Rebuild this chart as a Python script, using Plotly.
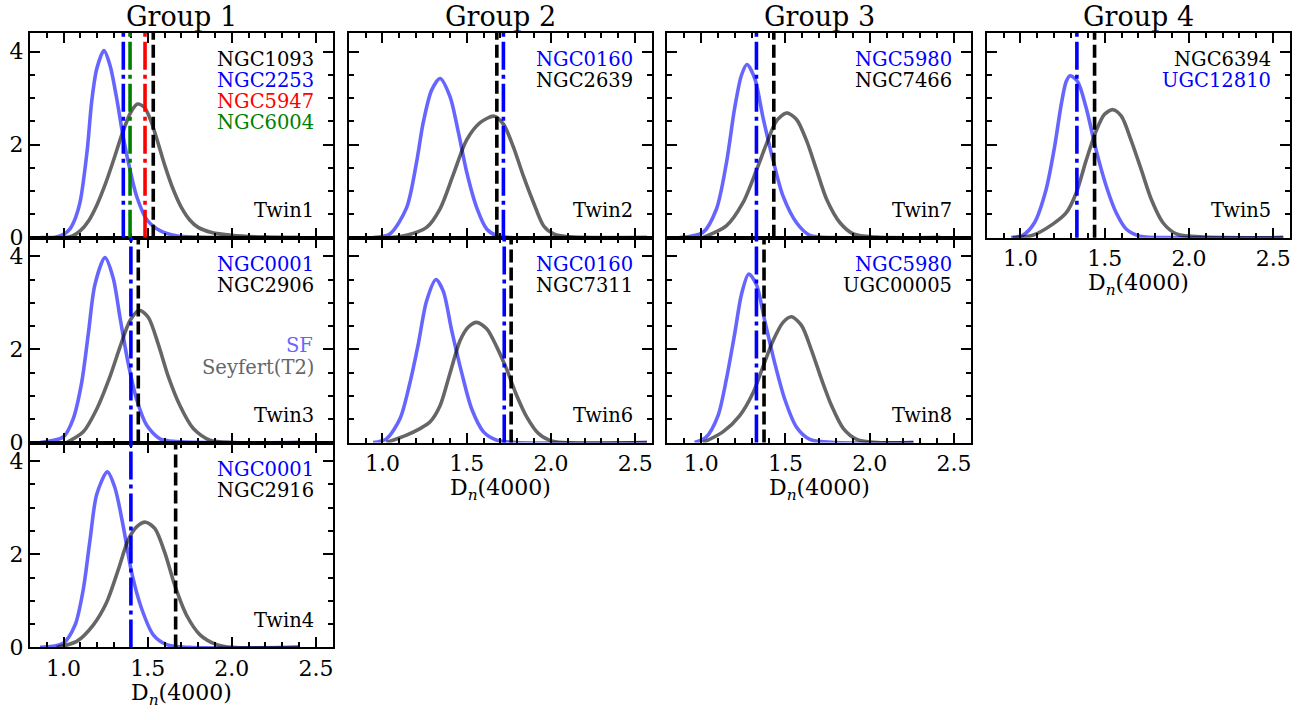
import plotly.graph_objects as go

# ---------------------------------------------------------------------------
# D_n(4000) density curves for the star-forming (SF) and Seyfert (T2) samples
# of each twin, plus the D_n(4000) of the individual galaxies in the twin.
# ---------------------------------------------------------------------------
GROUP_TITLES = ["Group 1", "Group 2", "Group 3", "Group 4"]
X_TICKS = [1.0, 1.5, 2.0, 2.5]
Y_TICKS = [0, 2, 4]
X_LABEL = "D<sub><i>n</i></sub>(4000)"

# Twin1
TWIN1_SF_X = [0.86, 0.95, 1.0, 1.038, 1.07, 1.097, 1.14, 1.167, 1.197, 1.24, 1.276, 1.315, 1.355, 1.395, 1.434, 1.494, 1.573, 1.67, 1.8, 2.4]
TWIN1_SF_Y = [0.0, 0.01, 0.07, 0.19, 0.42, 0.75, 1.87, 2.93, 3.63, 4.02, 3.70, 3.0, 2.15, 1.45, 0.89, 0.39, 0.15, 0.04, 0.01, 0.0]
TWIN1_SEY_X = [1.0, 1.05, 1.10, 1.15, 1.20, 1.25, 1.30, 1.35, 1.40, 1.44, 1.48, 1.52, 1.56, 1.60, 1.65, 1.70, 1.75, 1.80, 1.88, 2.0, 2.2, 2.4]
TWIN1_SEY_Y = [0.0, 0.03, 0.15, 0.37, 0.72, 1.17, 1.70, 2.25, 2.70, 2.87, 2.80, 2.50, 2.05, 1.57, 1.05, 0.65, 0.38, 0.22, 0.11, 0.05, 0.01, 0.0]
TWIN1_NAMES = ["NGC1093", "NGC2253", "NGC5947", "NGC6004"]
TWIN1_DN = [1.533, 1.355, 1.484, 1.395]

# Twin2
TWIN2_SF_X = [0.945, 1.044, 1.143, 1.203, 1.242, 1.292, 1.342, 1.401, 1.451, 1.50, 1.56, 1.62, 1.679, 1.76, 2.0, 2.57]
TWIN2_SF_Y = [0.0, 0.08, 0.64, 1.63, 2.47, 3.17, 3.42, 3.03, 2.26, 1.41, 0.64, 0.18, 0.04, 0.0, 0.0, 0.0]
TWIN2_SEY_X = [1.044, 1.143, 1.262, 1.342, 1.421, 1.50, 1.58, 1.663, 1.718, 1.778, 1.838, 1.897, 1.957, 2.016, 2.13, 2.57]
TWIN2_SEY_Y = [0.0, 0.05, 0.22, 0.62, 1.36, 2.10, 2.47, 2.61, 2.44, 1.94, 1.31, 0.75, 0.25, 0.08, 0.01, 0.0]
TWIN2_NAMES = ["NGC0160", "NGC2639"]
TWIN2_DN = [1.718, 1.679]

# Twin7
TWIN7_SF_X = [0.871, 1.01, 1.09, 1.149, 1.199, 1.239, 1.272, 1.318, 1.367, 1.427, 1.486, 1.566, 1.645, 1.8, 2.42]
TWIN7_SF_Y = [0.0, 0.11, 0.61, 1.59, 2.79, 3.49, 3.72, 3.42, 2.58, 1.66, 0.89, 0.32, 0.05, 0.0, 0.0]
TWIN7_SEY_X = [1.01, 1.149, 1.248, 1.328, 1.387, 1.447, 1.507, 1.566, 1.626, 1.685, 1.745, 1.824, 1.903, 2.04, 2.42]
TWIN7_SEY_Y = [0.0, 0.25, 0.75, 1.45, 2.01, 2.51, 2.68, 2.54, 2.08, 1.45, 0.82, 0.32, 0.08, 0.01, 0.0]
TWIN7_NAMES = ["NGC5980", "NGC7466"]
TWIN7_DN = [1.328, 1.431]

# Twin5
TWIN5_SF_X = [0.944, 1.013, 1.083, 1.152, 1.202, 1.242, 1.271, 1.295, 1.34, 1.39, 1.45, 1.51, 1.569, 1.629, 1.71, 1.9, 2.56]
TWIN5_SF_Y = [0.0, 0.05, 0.32, 1.03, 1.94, 2.86, 3.35, 3.48, 3.35, 2.79, 1.87, 1.10, 0.53, 0.18, 0.03, 0.0, 0.0]
TWIN5_SEY_X = [0.954, 1.073, 1.192, 1.271, 1.331, 1.39, 1.45, 1.499, 1.549, 1.599, 1.658, 1.718, 1.777, 1.846, 1.926, 2.1, 2.56]
TWIN5_SEY_Y = [0.0, 0.05, 0.29, 0.53, 0.96, 1.66, 2.30, 2.65, 2.75, 2.61, 2.08, 1.45, 0.82, 0.32, 0.08, 0.01, 0.0]
TWIN5_NAMES = ["NGC6394", "UGC12810"]
TWIN5_DN = [1.44, 1.335]

# Twin3
TWIN3_SF_X = [0.86, 0.998, 1.057, 1.107, 1.147, 1.186, 1.246, 1.295, 1.335, 1.384, 1.434, 1.494, 1.573, 1.67, 2.405]
TWIN3_SF_Y = [0.0, 0.12, 0.51, 1.28, 2.34, 3.39, 3.97, 3.53, 2.69, 1.70, 0.93, 0.37, 0.08, 0.02, 0.0]
TWIN3_SEY_X = [1.018, 1.117, 1.197, 1.276, 1.335, 1.395, 1.45, 1.503, 1.562, 1.622, 1.692, 1.771, 1.87, 2.01, 2.405]
TWIN3_SEY_Y = [0.0, 0.23, 0.72, 1.42, 2.05, 2.62, 2.84, 2.69, 2.12, 1.42, 0.79, 0.30, 0.05, 0.0, 0.0]
TWIN3_NAMES = ["NGC0001", "NGC2906"]
TWIN3_DN = [1.40, 1.444]

# Twin6
TWIN6_SF_X = [0.945, 1.024, 1.104, 1.163, 1.213, 1.262, 1.318, 1.361, 1.411, 1.471, 1.53, 1.60, 1.679, 1.8, 2.57]
TWIN6_SF_Y = [0.0, 0.08, 0.51, 1.28, 2.12, 3.04, 3.50, 3.25, 2.41, 1.49, 0.72, 0.23, 0.05, 0.0, 0.0]
TWIN6_SEY_X = [1.024, 1.143, 1.223, 1.282, 1.342, 1.401, 1.461, 1.51, 1.56, 1.62, 1.679, 1.739, 1.798, 1.858, 1.927, 2.01, 2.57]
TWIN6_SEY_Y = [0.0, 0.16, 0.30, 0.44, 0.79, 1.49, 2.19, 2.48, 2.58, 2.44, 2.05, 1.56, 1.00, 0.54, 0.19, 0.03, 0.0]
TWIN6_NAMES = ["NGC0160", "NGC7311"]
TWIN6_DN = [1.723, 1.764]

# Twin8
TWIN8_SF_X = [0.961, 1.03, 1.10, 1.149, 1.199, 1.239, 1.282, 1.328, 1.377, 1.437, 1.496, 1.566, 1.645, 1.8, 2.26]
TWIN8_SF_Y = [0.0, 0.12, 0.58, 1.35, 2.34, 3.18, 3.62, 3.39, 2.62, 1.70, 0.93, 0.33, 0.07, 0.0, 0.0]
TWIN8_SEY_X = [1.01, 1.129, 1.229, 1.308, 1.367, 1.427, 1.486, 1.536, 1.596, 1.655, 1.715, 1.774, 1.844, 1.923, 2.05, 2.26]
TWIN8_SEY_Y = [0.0, 0.23, 0.58, 1.07, 1.63, 2.19, 2.58, 2.70, 2.51, 1.98, 1.35, 0.79, 0.30, 0.07, 0.0, 0.0]
TWIN8_NAMES = ["NGC5980", "UGC00005"]
TWIN8_DN = [1.328, 1.373]

# Twin4
TWIN4_SF_X = [0.86, 0.998, 1.068, 1.117, 1.157, 1.197, 1.26, 1.305, 1.355, 1.405, 1.464, 1.533, 1.613, 1.75, 2.405]
TWIN4_SF_Y = [0.0, 0.09, 0.48, 1.25, 2.31, 3.29, 3.77, 3.43, 2.59, 1.60, 0.83, 0.27, 0.06, 0.0, 0.0]
TWIN4_SEY_X = [0.959, 1.078, 1.176, 1.256, 1.325, 1.384, 1.434, 1.488, 1.543, 1.602, 1.662, 1.731, 1.811, 1.91, 2.0, 2.405]
TWIN4_SEY_Y = [0.0, 0.13, 0.48, 0.97, 1.67, 2.31, 2.59, 2.69, 2.55, 2.03, 1.32, 0.69, 0.27, 0.06, 0.0, 0.0]
TWIN4_NAMES = ["NGC0001", "NGC2916"]
TWIN4_DN = [1.40, 1.666]

# ---------------------------------------------------------------------------
# Layout / styling
# ---------------------------------------------------------------------------
W, H = 1309, 720
FONT = "DejaVu Serif"
COL_PX = [(30, 333), (349, 652.5), (668, 971.5), (987.5, 1291)]
ROW_PX = [(33.5, 242), (242, 450.7), (450.7, 659.3)]
SF_COLOR = "rgba(0,0,255,0.6)"
SEY_COLOR = "rgba(0,0,0,0.6)"
DASHDOT = "28px,5px,4px,5px"
DASHED = "13px,5px"
LABEL_SIZE = 19.5

# (name, column, row, SF curve, Seyfert curve, galaxy names, Dn values,
#  galaxy colours, x tick labels shown, y tick labels shown)
PANELS = [
    ("Twin1", 0, 0, (TWIN1_SF_X, TWIN1_SF_Y), (TWIN1_SEY_X, TWIN1_SEY_Y),
     TWIN1_NAMES, TWIN1_DN, ["black", "blue", "red", "green"], False, True),
    ("Twin2", 1, 0, (TWIN2_SF_X, TWIN2_SF_Y), (TWIN2_SEY_X, TWIN2_SEY_Y),
     TWIN2_NAMES, TWIN2_DN, ["blue", "black"], False, False),
    ("Twin7", 2, 0, (TWIN7_SF_X, TWIN7_SF_Y), (TWIN7_SEY_X, TWIN7_SEY_Y),
     TWIN7_NAMES, TWIN7_DN, ["blue", "black"], False, False),
    ("Twin5", 3, 0, (TWIN5_SF_X, TWIN5_SF_Y), (TWIN5_SEY_X, TWIN5_SEY_Y),
     TWIN5_NAMES, TWIN5_DN, ["black", "blue"], True, False),
    ("Twin3", 0, 1, (TWIN3_SF_X, TWIN3_SF_Y), (TWIN3_SEY_X, TWIN3_SEY_Y),
     TWIN3_NAMES, TWIN3_DN, ["blue", "black"], False, True),
    ("Twin6", 1, 1, (TWIN6_SF_X, TWIN6_SF_Y), (TWIN6_SEY_X, TWIN6_SEY_Y),
     TWIN6_NAMES, TWIN6_DN, ["blue", "black"], True, False),
    ("Twin8", 2, 1, (TWIN8_SF_X, TWIN8_SF_Y), (TWIN8_SEY_X, TWIN8_SEY_Y),
     TWIN8_NAMES, TWIN8_DN, ["blue", "black"], True, False),
    ("Twin4", 0, 2, (TWIN4_SF_X, TWIN4_SF_Y), (TWIN4_SEY_X, TWIN4_SEY_Y),
     TWIN4_NAMES, TWIN4_DN, ["blue", "black"], True, True),
]

fig = go.Figure()
annotations = []
shapes = []

axis_common = dict(
    showline=True, linecolor="black", linewidth=2, mirror="ticks",
    ticks="inside", ticklen=10, tickwidth=1.5, tickcolor="black",
    showgrid=False, zeroline=False,
    tickfont=dict(family=FONT, size=22, color="black"),
)


def text_note(xa, ya, y, yshift, text, color, size=LABEL_SIZE, xshift=-17):
    return dict(
        xref=f"{xa} domain", yref=f"{ya} domain", x=1, y=y,
        xanchor="right", yanchor="middle", xshift=xshift, yshift=yshift,
        text=text, showarrow=False, font=dict(family=FONT, size=size, color=color))


for i, (name, col, row, sf, sey, names, dn, colors, show_x, show_y) in enumerate(PANELS):
    n = i + 1
    xa = "x" if n == 1 else f"x{n}"
    ya = "y" if n == 1 else f"y{n}"
    x0, x1 = COL_PX[col]
    y0, y1 = ROW_PX[row]

    fig.add_trace(go.Scatter(
        x=sf[0], y=sf[1], xaxis=xa, yaxis=ya, mode="lines",
        line=dict(color=SF_COLOR, width=3.6, shape="spline", smoothing=0.8),
        showlegend=False, hoverinfo="skip"))
    fig.add_trace(go.Scatter(
        x=sey[0], y=sey[1], xaxis=xa, yaxis=ya, mode="lines",
        line=dict(color=SEY_COLOR, width=3.6, shape="spline", smoothing=0.8),
        showlegend=False, hoverinfo="skip"))

    # galaxy D_n(4000) markers: Seyferts dashed, star-forming dash-dot
    for v, c in zip(dn, colors):
        shapes.append(dict(
            type="line", xref=xa, yref=f"{ya} domain", x0=v, x1=v, y0=0, y1=1,
            line=dict(color=c, width=3.6, dash=DASHED if c == "black" else DASHDOT),
            layer="above"))

    xkey = "xaxis" if n == 1 else f"xaxis{n}"
    ykey = "yaxis" if n == 1 else f"yaxis{n}"
    xaxis = dict(
        axis_common, domain=[x0 / W, x1 / W], anchor=ya, range=[0.8, 2.6],
        tickvals=X_TICKS, ticktext=[f"{t:.1f}" for t in X_TICKS],
        showticklabels=show_x,
        minor=dict(ticks="inside", ticklen=5, tickwidth=1.5, tickcolor="black", dtick=0.1, tick0=0.8),
    )
    yaxis = dict(
        axis_common, domain=[1 - y1 / H, 1 - y0 / H], anchor=xa, range=[0, 4.4],
        tickvals=Y_TICKS, showticklabels=show_y,
        minor=dict(ticks="inside", ticklen=5, tickwidth=1.5, tickcolor="black", dtick=0.5, tick0=0),
    )
    fig.update_layout({xkey: xaxis, ykey: yaxis})

    if show_x:
        annotations.append(dict(
            xref="paper", yref="paper", x=(x0 + x1) / 2 / W, y=1 - (y1 + 31) / H,
            xanchor="center", yanchor="top", text=X_LABEL, showarrow=False,
            font=dict(family=FONT, size=22, color="black")))

    # galaxy names, top right
    for k, (gname, c) in enumerate(zip(names, colors)):
        annotations.append(text_note(xa, ya, 1, -27 - 21 * k, gname, c))
    # twin label, bottom right
    annotations.append(text_note(xa, ya, 0, 27, name, "black"))
    if name == "Twin3":
        annotations.append(text_note(xa, ya, 1, -108, "SF", "#6666ff", xshift=-18))
        annotations.append(text_note(xa, ya, 1, -130, "Seyfert(T2)", "#666666"))

# column titles
for c, title in enumerate(GROUP_TITLES):
    x0, x1 = COL_PX[c]
    annotations.append(dict(
        xref="paper", yref="paper", x=(x0 + x1) / 2 / W, y=1 - 16.5 / H,
        xanchor="center", yanchor="middle", text=title, showarrow=False,
        font=dict(family=FONT, size=27, color="black")))

fig.update_layout(
    width=W, height=H, autosize=False, margin=dict(l=0, r=0, t=0, b=0, pad=0),
    paper_bgcolor="white", plot_bgcolor="white",
    annotations=annotations, shapes=shapes, showlegend=False,
)

# fixed-size page: no body margin, no scrollbars, no resizing
fig.write_html(
    "out.html",
    config={"responsive": False, "displayModeBar": False},
    post_script="document.body.style.margin='0';document.body.style.overflow='hidden';",
)
